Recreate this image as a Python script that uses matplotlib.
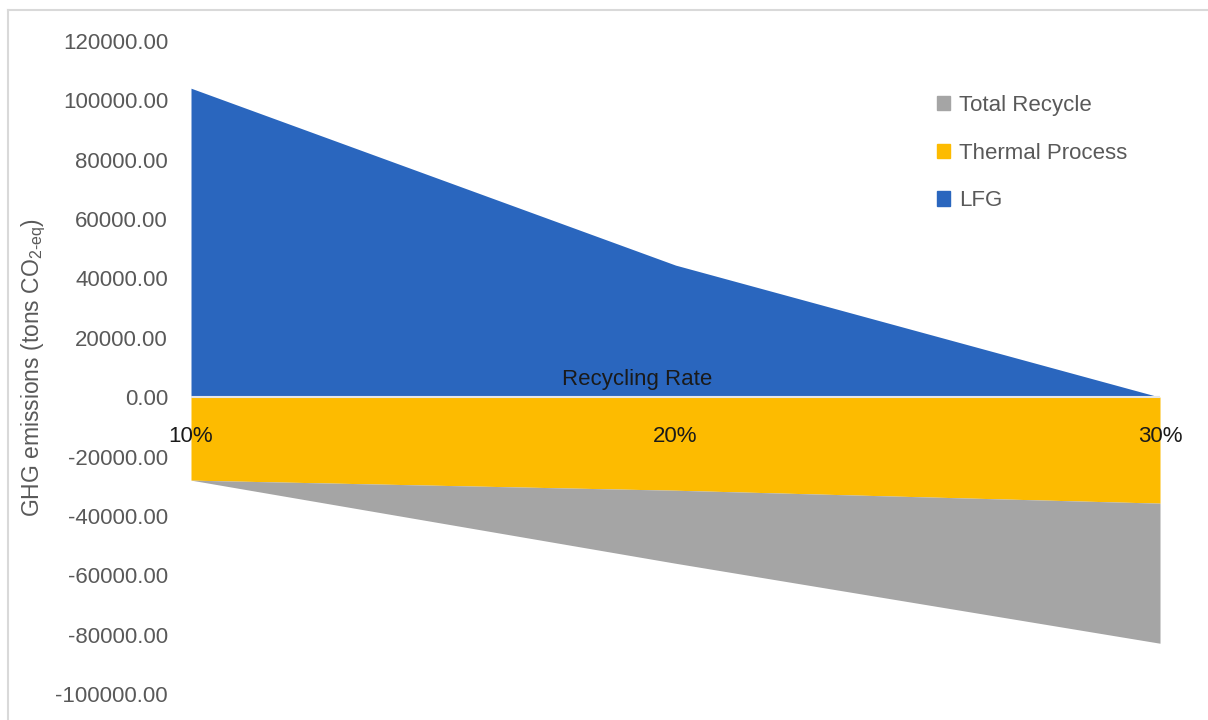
import matplotlib

matplotlib.use("Agg")
import matplotlib.pyplot as plt  # noqa: E402
from matplotlib.lines import Line2D  # noqa: E402
from matplotlib.patches import Patch  # noqa: E402
import numpy as np

# data (tons CO2-eq)
rates = ["10%", "20%", "30%"]
lfg = [104100, 44500, 0]
thermal = [-27950, -31350, -35700]
recycle = [0, -24600, -47200]

BLUE = "#2A66BE"
YELLOW = "#FDBB00"
GRAY = "#A5A5A5"
TXT = "#595959"

plt.rcParams["font.family"] = ["Liberation Sans", "DejaVu Sans"]
plt.rcParams["mathtext.fontset"] = "custom"
plt.rcParams["mathtext.rm"] = "Liberation Sans"

fig = plt.figure(figsize=(12.08, 7.2), dpi=100)
W, H = 1208, 720
ax = fig.add_axes([191 / W, 1 - 694 / H, (1160 - 191) / W, (694 - 41) / H])

x = np.arange(len(rates))
lfg_a = np.array(lfg)
th_a = np.array(thermal)
rc_a = np.array(recycle)

ax.fill_between(x, 0, lfg_a, color=BLUE, lw=0)
ax.fill_between(x, 0, th_a, color=YELLOW, lw=0)
ax.fill_between(x, th_a, th_a + rc_a, color=GRAY, lw=0)
ax.axhline(0, color="#E6E6E6", lw=1.5)

ax.set_xlim(0, len(rates) - 1)
ax.set_ylim(-100000, 120000)
ticks = np.arange(-100000, 120001, 20000)
ax.set_yticks(ticks)
ax.set_yticklabels([f"{v:.2f}" for v in ticks])
ax.tick_params(axis="y", length=0, pad=16.5, labelsize=16, labelcolor=TXT)
ax.set_xticks([])
for s in ax.spines.values():
    s.set_visible(False)

# category labels sit just below the zero line
for i, r in enumerate(rates):
    ax.annotate(r, (i, 0), xytext=(0, -36), textcoords="offset points",
                ha="center", va="bottom", fontsize=16, color="#1a1a1a")
fig.text(637 / W, 1 - 380 / H, "Recycling Rate", ha="center", va="center",
         fontsize=16, color="#1a1a1a")

fig.text(34 / W, 1 - 367 / H, r"GHG emissions (tons CO$_{\mathrm{2\text{-}eq}}$)",
         rotation=90, ha="center", va="center", fontsize=16.5, color=TXT)

handles = [Patch(color=GRAY), Patch(color=YELLOW), Patch(color=BLUE)]
fig.legend(handles, ["Total Recycle", "Thermal Process", "LFG"],
           loc="upper left", bbox_to_anchor=(917 / W, 1 - 75 / H),
           frameon=False, fontsize=16, handlelength=0.6, handleheight=0.6,
           handletextpad=0.4, labelspacing=1.2, labelcolor=TXT)

# chart-area border (left/top visible in the crop)
fig.add_artist(Line2D([8 / W, 8 / W], [0, 1 - 10 / H], color="#D9D9D9", lw=1.5))
fig.add_artist(Line2D([8 / W, 1], [1 - 10 / H, 1 - 10 / H], color="#D9D9D9", lw=1.5))

fig.savefig("out.png", dpi=100)
